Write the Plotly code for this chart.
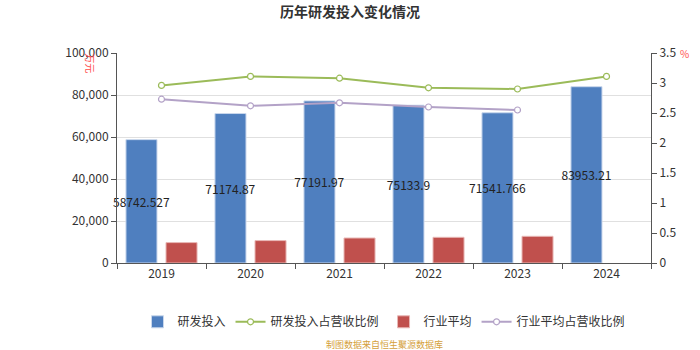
import plotly.graph_objects as go

years = ["2019", "2020", "2021", "2022", "2023", "2024"]
rd_invest = [58742.527, 71174.87, 77191.97, 75133.9, 71541.766, 83953.21]
industry_avg = [9714, 10667, 11905, 12238, 12714, None]
rd_ratio = [2.96, 3.11, 3.08, 2.92, 2.90, 3.11]
industry_ratio = [2.73, 2.62, 2.67, 2.60, 2.55, None]
rd_labels = ["58742.527", "71174.87", "77191.97", "75133.9", "71541.766", "83953.21"]

font_family = "Noto Sans CJK SC, Noto Sans, sans-serif"
axis_color = "#555555"

fig = go.Figure()
fig.add_trace(go.Bar(
    x=years, y=rd_invest, name="研发投入",
    marker=dict(color="#4f7fbf", line=dict(color="#c9d7ec", width=1)),
    text=rd_labels, textposition="inside", insidetextanchor="middle",
    constraintext="none", textangle=0,
    textfont=dict(color="#222222", size=12, family=font_family),
    cliponaxis=False,
))
fig.add_trace(go.Scatter(
    x=years, y=rd_ratio, name="研发投入占营收比例", yaxis="y2",
    mode="lines+markers",
    line=dict(color="#9bbb59", width=2),
    marker=dict(symbol="circle", size=6, color="white",
                line=dict(color="#9bbb59", width=1.2)),
))
fig.add_trace(go.Bar(
    x=years, y=industry_avg, name="行业平均",
    marker=dict(color="#c0504d", line=dict(color="#e8b7b5", width=1)),
))
fig.add_trace(go.Scatter(
    x=years, y=industry_ratio, name="行业平均占营收比例", yaxis="y2",
    mode="lines+markers",
    line=dict(color="#b3a2c7", width=2),
    marker=dict(symbol="circle", size=6, color="white",
                line=dict(color="#b3a2c7", width=1.2)),
))

fig.update_layout(
    width=700, height=350,
    margin=dict(l=117, r=49, t=53, b=87),
    paper_bgcolor="white", plot_bgcolor="white",
    font=dict(family=font_family, size=12, color="#333333"),
    barmode="group", bargap=0.1, bargroupgap=0.225,
    title=dict(text="<b>历年研发投入变化情况</b>", x=0.5, xanchor="center",
               y=0.965, yanchor="middle",
               font=dict(size=14, color="#333333", family=font_family)),
    xaxis=dict(
        type="category", showline=True, linecolor=axis_color, linewidth=1,
        ticks="outside", tickson="boundaries", ticklen=5, tickcolor=axis_color,
        showgrid=False, tickfont=dict(size=12, color="#333333"),
    ),
    yaxis=dict(
        range=[0, 100000], dtick=20000, tickformat=",d",
        showline=True, linecolor=axis_color, linewidth=1,
        ticks="outside", ticklen=5, tickcolor=axis_color,
        showgrid=True, gridcolor="#e0e0e0", gridwidth=1,
        zeroline=False, tickfont=dict(size=12, color="#333333"),
    ),
    yaxis2=dict(
        range=[0, 3.5], dtick=0.5, overlaying="y", side="right",
        showline=True, linecolor=axis_color, linewidth=1,
        ticks="outside", ticklen=5, tickcolor=axis_color,
        showgrid=False, zeroline=False,
        tickfont=dict(size=12, color="#333333"),
    ),
    legend=dict(orientation="h", x=0.5, xanchor="center", y=-0.28,
                yanchor="middle", font=dict(size=12, color="#333333"),
                traceorder="normal", itemwidth=30),
    showlegend=True,
)

fig.add_annotation(text="万元", xref="paper", yref="paper",
                   x=-0.05, y=0.95, xanchor="center", yanchor="middle",
                   textangle=90, showarrow=False,
                   font=dict(size=10, color="#ff4d4d", family=font_family))
fig.add_annotation(text="%", xref="paper", yref="paper",
                   x=1.063, y=1.0, xanchor="center", yanchor="middle",
                   showarrow=False,
                   font=dict(size=10, color="#ff4d4d", family=font_family))
fig.add_annotation(text="制图数据来自恒生聚源数据库", xref="paper", yref="paper",
                   x=0.5, y=-0.39, xanchor="center", yanchor="middle",
                   showarrow=False,
                   font=dict(size=9, color="#d4a03a", family=font_family))

fig.write_html("out.html")
